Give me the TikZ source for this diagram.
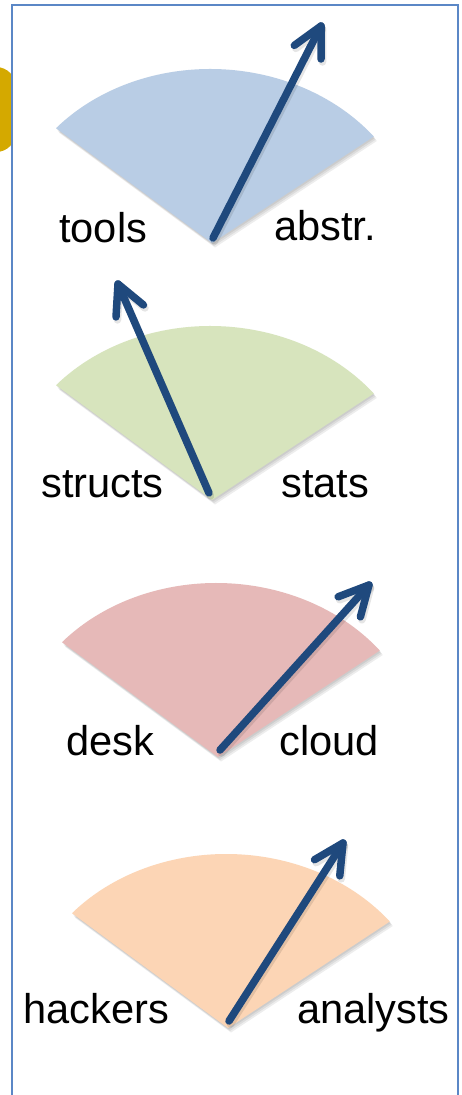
\documentclass[tikz,border=0pt]{standalone}
\usepackage{fontspec}
\setmainfont{Liberation Sans}
\usetikzlibrary{calc}
\definecolor{secblue}{HTML}{B9CDE5}
\definecolor{secgreen}{HTML}{D7E4BD}
\definecolor{secred}{HTML}{E6B9B8}
\definecolor{secorange}{HTML}{FCD5B5}
\definecolor{arrowblue}{HTML}{1F497D}
\definecolor{boxline}{HTML}{5B87C6}
\definecolor{goldtab}{HTML}{D4A900}
\tikzset{
  lbl/.style={font=\fontsize{41.6}{50}\selectfont, inner sep=0pt, text=black, anchor=base west},
  needle/.style={draw=arrowblue, line width=7.5pt, line cap=round, line join=round},
  needleshade/.style={draw=black, opacity=0.10, line width=7.5pt, line cap=round, line join=round},
  fanshade/.style={fill=black, opacity=0.07},
  boxframe/.style={draw=boxline, line width=1.6pt, fill=white},
}
\newcommand\fanpath{(0,0) -- (140.5:206 and 174) arc[start angle=140.5, end angle=39.5, x radius=206, y radius=174] -- cycle}
\newcommand\fanat[2]{%
  \foreach \dx/\dy in {1/-1.5,2/-3,3/-4.5}{%
    \begin{scope}[transform canvas={shift={(\dx pt,\dy pt)}}]
      \begin{scope}[shift={(#1)}, rotate=-1.5, yscale=-1]
        \fill[fanshade] \fanpath;
      \end{scope}
    \end{scope}}
  \begin{scope}[shift={(#1)}, rotate=-1.5, yscale=-1]
    \fill[#2] \fanpath;
  \end{scope}}
\newcommand\needleat[2]{%
  \begin{scope}[transform canvas={shift={(1.5pt,-3pt)}}]
    \draw[needleshade] (#1) -- (#2);
    \draw[needleshade] ($(#2)!33pt!27:(#1)$) -- (#2) -- ($(#2)!33pt!-27:(#1)$);
  \end{scope}
  \draw[needle] (#1) -- (#2);
  \draw[needle] ($(#2)!33pt!27:(#1)$) -- (#2) -- ($(#2)!33pt!-27:(#1)$);}
\begin{document}
\begin{tikzpicture}[x=1pt, y=-1pt]
\useasboundingbox (0,0) rectangle (462,1095);
\fill[white] (0,0) rectangle (462,1095);
% gold tab behind the frame
\fill[goldtab, rounded corners=20pt] (-40,67) rectangle (16,152);
% frame
\draw[boxframe] (12,5) rectangle (458,1110);
% apexes
\coordinate (a1) at (212,243);
\coordinate (a2) at (212,500);
\coordinate (a3) at (218,757);
\coordinate (a4) at (228,1028);
% fans
\fanat{a1}{secblue}
\fanat{a2}{secgreen}
\fanat{a3}{secred}
\fanat{a4}{secorange}
% needle ends
\coordinate (t1) at (213,238); \coordinate (h1) at (321,26);
\coordinate (t2) at (209,493); \coordinate (h2) at (118,284);
\coordinate (t3) at (220,750); \coordinate (h3) at (369,585);
\coordinate (t4) at (229,1021); \coordinate (h4) at (343,843);
\needleat{t1}{h1}
\needleat{t2}{h2}
\needleat{t3}{h3}
\needleat{t4}{h4}
% labels
\node[lbl] (ltools) at (59,242) {tools};
\node[lbl] (labstr) at (274,240) {abstr.};
\node[lbl] (lstructs) at (41,497) {structs};
\node[lbl] (lstats) at (281,497) {stats};
\node[lbl] (ldesk) at (66,755) {desk};
\node[lbl] (lcloud) at (279,755) {cloud};
\node[lbl] (lhackers) at (23,1023) {hackers};
\node[lbl] (lanalysts) at (297,1023) {analysts};
\end{tikzpicture}
\end{document}
